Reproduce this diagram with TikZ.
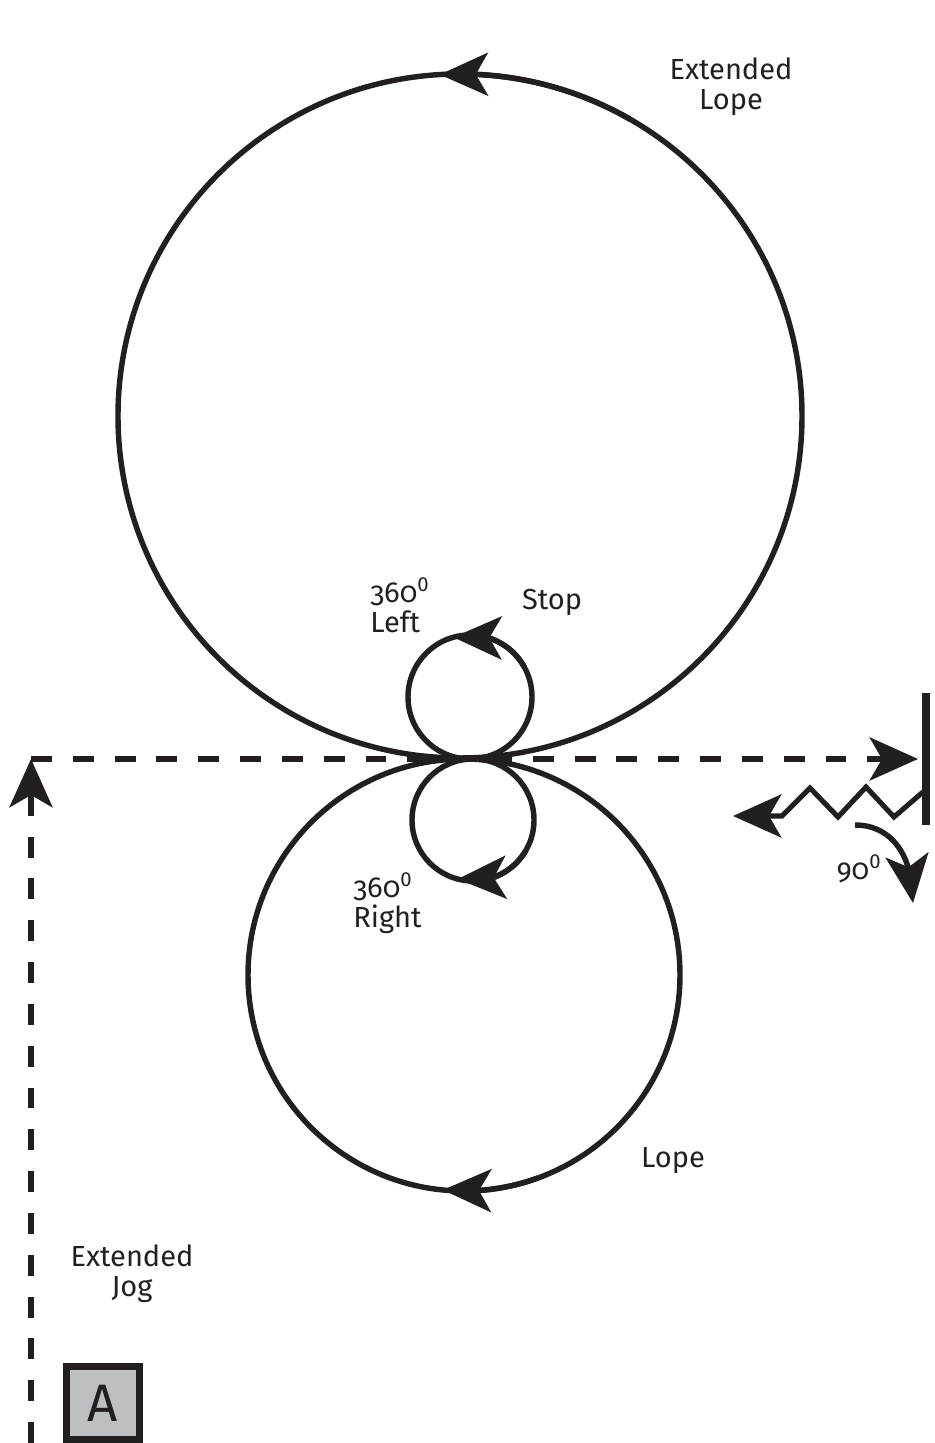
\documentclass[tikz,border=0pt]{standalone}
\usepackage{fontspec}
\setmainfont{Fira Sans}[Numbers=OldStyle]
\usetikzlibrary{arrows.meta,bending}
\definecolor{ink}{RGB}{35,31,32}
\definecolor{boxgray}{RGB}{190,191,195}
\newcommand{\degr}{\textsuperscript{\addfontfeature{Numbers=Lining}0}}

\begin{document}
\begin{tikzpicture}[x=0.02cm,y=0.02cm,
  track/.style={draw=ink,line width=3.1pt},
  zig/.style={draw=ink,line width=2.9pt,line join=miter},
  wall/.style={draw=ink,line width=4.6pt},
  dashline/.style={draw=ink,line width=3.1pt,dash pattern=on 11.9pt off 11.9pt},
  arr/.style={-{Stealth[length=27.5pt,width=24.5pt,inset=7pt,flex]}},
  lbl/.style={font=\fontsize{16.5}{17}\selectfont,text=ink,inner sep=0pt}]
  \useasboundingbox (0,0) rectangle (934,1443);
  \coordinate (bigC) at (460,1027);
  \coordinate (lowC) at (464,468);
  \coordinate (leftC) at (470,746);
  \coordinate (rightC) at (473,623);
  \draw[track] (bigC) circle[radius=342];
  \draw[track] (lowC) circle[radius=216];
  \draw[track] (leftC) circle[radius=62];
  \draw[track] (rightC) circle[radius=61];
  \draw[track,arr] ([shift={(60:342)}]bigC) arc[start angle=60,end angle=93.4,radius=342];
  \draw[track,arr] ([shift={(290:216)}]lowC) arc[start angle=290,end angle=264.4,radius=216];
  \draw[track,arr] ([shift={(30:62)}]leftC) arc[start angle=30,end angle=105.6,radius=62];
  \draw[track,arr] ([shift={(330:61)}]rightC) arc[start angle=330,end angle=255.5,radius=61];

  \coordinate (jogStart) at (31,0);
  \coordinate (corner) at (31,684);
  \coordinate (hit) at (918,684);
  \coordinate (wallTop) at (926,750);
  \coordinate (wallBot) at (926,618);
  \coordinate (bounce) at (733,627);
  \coordinate (turnStart) at (855,618);
  \coordinate (turnEnd) at (913,540);
  \draw[dashline,arr] (jogStart) -- (corner);
  \draw[dashline,arr] (corner) -- (hit);
  \draw[wall] (wallTop) -- (wallBot);
  \draw[zig,arr] (923,651) -- (894,626) -- (866,656) -- (838,626) -- (810,655) -- (782,627) -- (bounce);
  \draw[track,arr] (turnStart) .. controls (890,618) and (913,590) .. (turnEnd);

  \node[lbl,align=center] (extLope) at (731,1356) {Extended\\Lope};
  \node[lbl,align=left,anchor=west] (left) at (370,838) {360\degr\\Left};
  \node[lbl,anchor=base] (stop) at (552,833) {Stop};
  \node[lbl,align=left,anchor=west] (right) at (353,540) {360\degr\\Right};
  \node[lbl,anchor=base] (ninety) at (859,563) {90\degr};
  \node[lbl,anchor=base] (lope) at (673,275) {Lope};
  \node[lbl,align=center] (extJog) at (132,169) {Extended\\Jog};
  \node[draw=ink,line width=4pt,fill=boxgray,minimum size=41.4pt,inner sep=0pt,
    font=\fontsize{30}{30}\selectfont,text=ink] (boxA) at (103,40) {A};
\end{tikzpicture}
\end{document}
